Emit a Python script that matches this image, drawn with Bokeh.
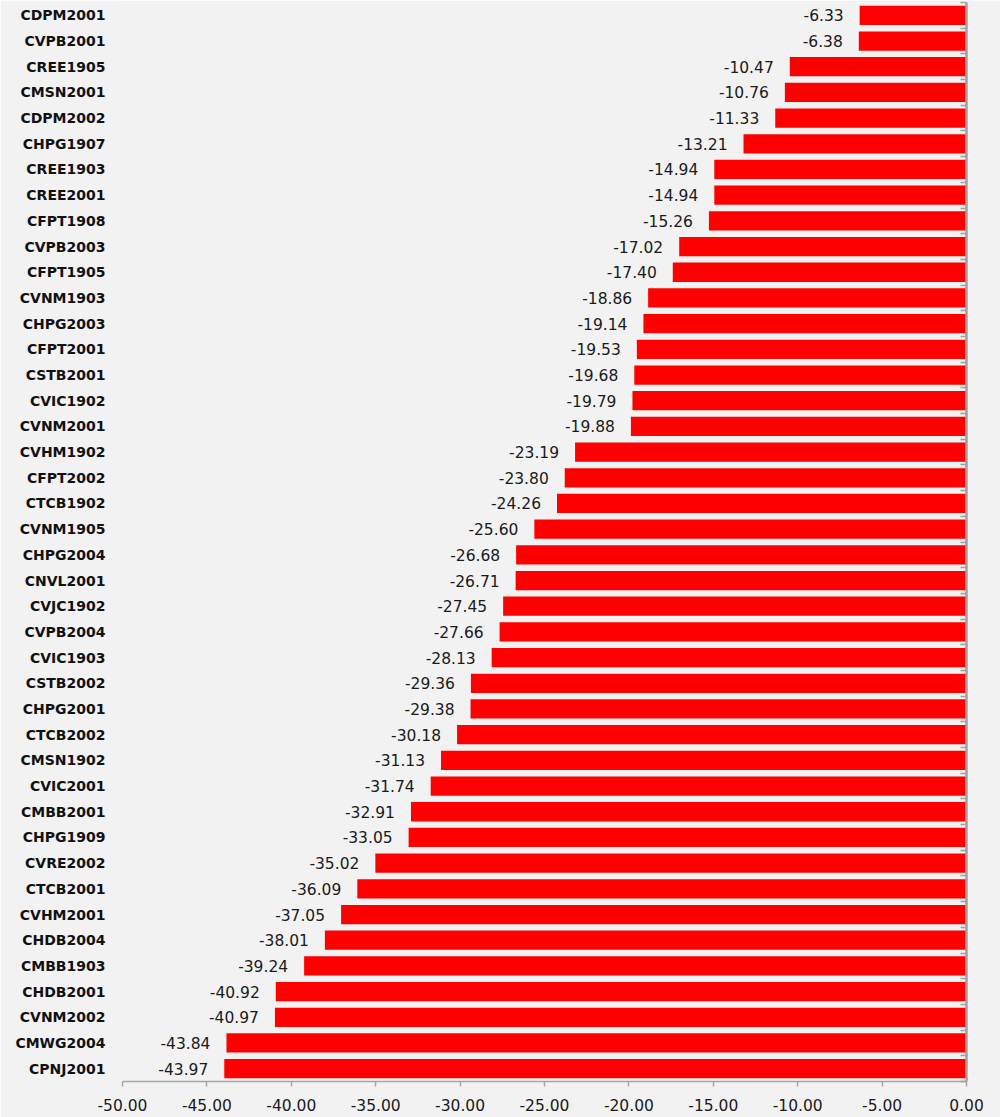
from bokeh.plotting import figure
from bokeh.models import (Range1d, LinearAxis, FixedTicker,
                          NumeralTickFormatter, ColumnDataSource)
from bokeh.core.properties import value
from bokeh.embed import file_html
from bokeh.resources import INLINE

# Contract codes, top to bottom, and their percentage change
codes = ["CDPM2001", "CVPB2001", "CREE1905", "CMSN2001", "CDPM2002", "CHPG1907",
         "CREE1903", "CREE2001", "CFPT1908", "CVPB2003", "CFPT1905", "CVNM1903",
         "CHPG2003", "CFPT2001", "CSTB2001", "CVIC1902", "CVNM2001", "CVHM1902",
         "CFPT2002", "CTCB1902", "CVNM1905", "CHPG2004", "CNVL2001", "CVJC1902",
         "CVPB2004", "CVIC1903", "CSTB2002", "CHPG2001", "CTCB2002", "CMSN1902",
         "CVIC2001", "CMBB2001", "CHPG1909", "CVRE2002", "CTCB2001", "CVHM2001",
         "CHDB2004", "CMBB1903", "CHDB2001", "CVNM2002", "CMWG2004", "CPNJ2001"]
changes = [-6.33, -6.38, -10.47, -10.76, -11.33, -13.21,
           -14.94, -14.94, -15.26, -17.02, -17.40, -18.86,
           -19.14, -19.53, -19.68, -19.79, -19.88, -23.19,
           -23.80, -24.26, -25.60, -26.68, -26.71, -27.45,
           -27.66, -28.13, -29.36, -29.38, -30.18, -31.13,
           -31.74, -32.91, -33.05, -35.02, -36.09, -37.05,
           -38.01, -39.24, -40.92, -40.97, -43.84, -43.97]
x_ticks = [-50, -45, -40, -35, -30, -25, -20, -15, -10, -5, 0]

# one slot per contract, first contract in the top slot
n = len(codes)
slot = [n - i - 0.5 for i in range(n)]

src = ColumnDataSource(dict(slot=slot, change=changes,
                            label=[f"{v:.2f}" for v in changes]))

bg = "#f2f2f2"
p = figure(width=1000, height=1117, output_backend="svg", toolbar_location=None,
           y_range=Range1d(0, n), x_range=Range1d(-50, 0),
           min_border_left=122, min_border_right=34, min_border_top=2,
           min_border_bottom=36, background_fill_color=bg,
           border_fill_color=bg, outline_line_color=None)

p.hbar(y="slot", left="change", right=0, height=0.75, source=src,
       fill_color="#ff0000", line_color=None)

p.text(x="change", y="slot", text="label", source=src, text_align="right",
       text_baseline="middle", x_offset=-16, text_color="#1a1a1a",
       text_font=value("DejaVu Sans"), text_font_size="15.5px")

p.xgrid.visible = False
p.ygrid.visible = False

# contract labels on the left
ya = p.yaxis[0]
ya.ticker = FixedTicker(ticks=slot)
ya.major_label_overrides = {s: c for s, c in zip(slot, codes)}
ya.axis_line_color = None
ya.major_tick_line_color = None
ya.minor_tick_line_color = None
ya.major_tick_out = 0
ya.major_tick_in = 0
ya.major_label_standoff = 17
ya.major_label_text_font = "DejaVu Sans"
ya.major_label_text_font_style = "bold"
ya.major_label_text_font_size = "14px"
ya.major_label_text_color = "#111111"

# value axis along the bottom
xa = p.xaxis[0]
xa.ticker = FixedTicker(ticks=x_ticks)
xa.formatter = NumeralTickFormatter(format="0.00")
xa.axis_line_color = "#a6a6a6"
xa.axis_line_width = 1.5
xa.major_tick_line_color = "#a6a6a6"
xa.major_tick_line_width = 1.5
xa.major_tick_out = 5
xa.major_tick_in = 0
xa.minor_tick_line_color = None
xa.major_label_standoff = 12
xa.major_label_text_font = "DejaVu Sans"
xa.major_label_text_font_size = "15.5px"
xa.major_label_text_color = "#1a1a1a"

# zero line with ticks between the slots (no labels of its own)
edges = list(range(n + 1))
ra = LinearAxis(ticker=FixedTicker(ticks=edges),
                major_label_overrides={e: "" for e in edges},
                axis_line_color="#a0a0a0", axis_line_width=2.5,
                major_tick_line_color="#a0a0a0", major_tick_line_width=1.5,
                major_tick_in=6, major_tick_out=0, minor_tick_line_color=None,
                major_label_standoff=0)
p.add_layout(ra, "right")

open("out.html", "w").write(file_html(p, INLINE))
